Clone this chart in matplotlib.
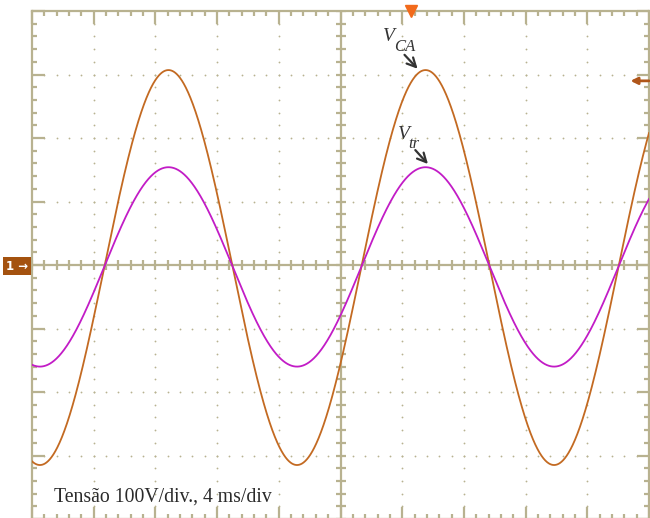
import numpy as np
import matplotlib
matplotlib.use("Agg")
import matplotlib.pyplot as plt
from matplotlib.ticker import MultipleLocator

# waveform readings (scope: 100 V/div, 4 ms/div)
trace_names = ["V_CA", "V_tr"]
peak_volts = [311, 157]          # peak amplitude of each trace
offset_volts = [-4, -3]          # small dc offset seen on screen
freq_hz = 60
zero_cross_ms = 4.68             # first rising zero crossing
trace_colors = ["#C36A22", "#C21CC6"]

screen_ms = 40                   # 10 div x 4 ms
screen_v = 400                   # +-4 div x 100 V
trig_ms = 24.6
trig_level_v = 290

grid_c = "#B8B290"
serif_it = dict(family="Liberation Serif", style="italic", color="#333333")

fig = plt.figure(figsize=(6.5, 5.18), dpi=100)
ax = fig.add_axes([32 / 650, -1 / 518, 617 / 650, 508 / 518])
ax.set_xlim(0, screen_ms)
ax.set_ylim(-screen_v, screen_v)

# border with inward ticks
for s in ax.spines.values():
    s.set_color(grid_c)
    s.set_linewidth(1.6)
ax.xaxis.set_major_locator(MultipleLocator(4))
ax.xaxis.set_minor_locator(MultipleLocator(0.8))
ax.yaxis.set_major_locator(MultipleLocator(100))
ax.yaxis.set_minor_locator(MultipleLocator(20))
ax.tick_params(which="both", direction="in", top=True, right=True,
               labelbottom=False, labelleft=False, color=grid_c, width=1.6)
ax.tick_params(which="major", length=9)
ax.tick_params(which="minor", length=3.8)

# dotted graticule
xs_dot = np.arange(0, screen_ms + 0.01, 0.8)
ys_dot = np.arange(-screen_v, screen_v + 1, 20)
for gx in np.arange(4, screen_ms, 4):
    if gx != screen_ms / 2:
        ax.plot(np.full_like(ys_dot, gx, dtype=float), ys_dot, ls="none",
                marker="o", ms=1.3, color=grid_c, mew=0)
for gy in np.arange(-300, 301, 100):
    if gy != 0:
        ax.plot(xs_dot, np.full_like(xs_dot, gy, dtype=float), ls="none",
                marker="o", ms=1.3, color=grid_c, mew=0)

# centre axes with cross ticks
ax.axhline(0, color=grid_c, lw=1.6)
ax.axvline(screen_ms / 2, color=grid_c, lw=1.6)
ax.plot(xs_dot, np.zeros_like(xs_dot), ls="none", marker="|", ms=7.5,
        mew=1.6, color=grid_c)
ax.plot(np.full_like(ys_dot, screen_ms / 2, dtype=float), ys_dot, ls="none",
        marker="_", ms=7.5, mew=1.6, color=grid_c)

# traces
t = np.linspace(0, screen_ms, 3000)
for amp, off, col in zip(peak_volts, offset_volts, trace_colors):
    v = amp * np.sin(2 * np.pi * freq_hz * (t - zero_cross_ms) / 1000) + off
    ax.plot(t, v, color=col, lw=1.3, zorder=5)

# labels: V with a dropped subscript, arrow to the peak
arrow_kw = dict(arrowstyle="->", color="#333333", lw=1.6, mutation_scale=16,
                shrinkA=0, shrinkB=0)
ax.text(22.76, 352, "V", fontsize=14, va="baseline", **serif_it)
ax.text(23.5, 337, "CA", fontsize=12, va="baseline", **serif_it)
ax.annotate("", xy=(25.0, 309), xytext=(24.15, 331), arrowprops=arrow_kw)

ax.text(23.73, 199, "V", fontsize=14, va="baseline", **serif_it)
ax.text(24.4, 185, "tr", fontsize=12, va="baseline", **serif_it)
ax.annotate("", xy=(25.67, 159), xytext=(24.85, 181), arrowprops=arrow_kw)

ax.text(1.45, -372, "Tensão 100V/div., 4 ms/div", fontsize=14.2,
        family="Liberation Serif", color="#2a2a2a", va="baseline")

# trigger markers
ax.plot([trig_ms], [screen_v], marker="v", ms=8, color="#F26A1B",
        clip_on=False, zorder=6)
ax.annotate("", xy=(38.8, trig_level_v), xytext=(40.0, trig_level_v),
            arrowprops=dict(arrowstyle="-|>", color="#B0561A", lw=2,
                            mutation_scale=10, shrinkA=0, shrinkB=0))

# channel marker
fig.text(6 / 650, 1 - 266 / 518, "1 \u2192", fontsize=8.5, color="white",
         va="center", ha="left", fontweight="bold",
         bbox=dict(boxstyle="square,pad=0.25", fc="#A4520F", ec="none"))

fig.savefig("out.png", dpi=100)
